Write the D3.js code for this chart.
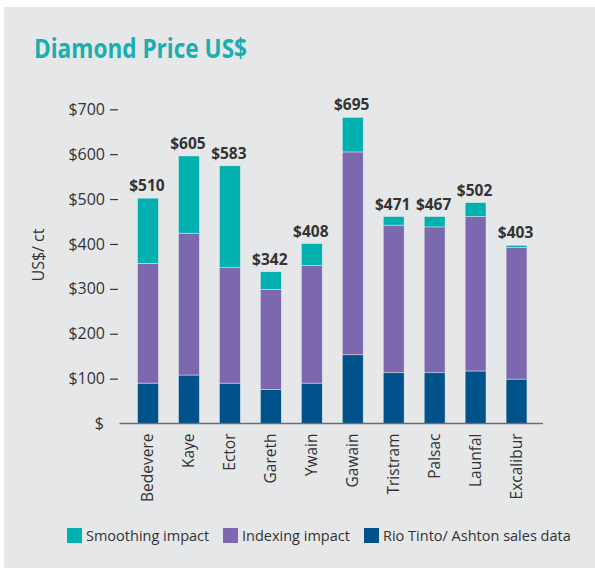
<!DOCTYPE html>
<html><head><meta charset="utf-8">
<script src="https://cdn.jsdelivr.net/npm/d3@7"></script>
<style>
html,body{margin:0;padding:0;background:#fff;}
svg{display:block;font-family:"Open Sans","Noto Sans",sans-serif;}
</style></head>
<body>
<svg id="chart" width="595" height="568"></svg>
<script>
const categories = ["Bedevere","Kaye","Ector","Gareth","Ywain","Gawain","Tristram","Palsac","Launfal","Excalibur"];
const salesData = [90,108,90,76,90,153,113,113,117,99];
const indexingImpact = [267,316,257,223,262,452,329,325,344,293];
const smoothingImpact = [145,172,227,39,49,77,19,23,31,5];
const totalLabels = ["$510","$605","$583","$342","$408","$695","$471","$467","$502","$403"];
const yTicks = [0,100,200,300,400,500,600,700];
const seriesNames = ["Smoothing impact","Indexing impact","Rio Tinto/ Ashton sales data"];
const colors = {sales:"#00528a", indexing:"#7b68ae", smoothing:"#00b1b0"};

const svg = d3.select("#chart");
svg.append("rect").attr("x",4).attr("y",7).attr("width",591).attr("height",561).attr("fill","#e6e7e9");

svg.append("text").attr("x",34).attr("y",58).attr("fill","#1aaeb0")
  .attr("font-size",26).attr("font-weight",700).attr("font-family","'Open Sans',sans-serif")
  .attr("textLength",213).attr("lengthAdjust","spacingAndGlyphs")
  .text("Diamond Price US$");

const y = d3.scaleLinear().domain([0,700]).range([423.5,109.3]);
const x = d3.scaleBand().domain(categories).range([127.5,537]).paddingInner(0.49).paddingOuter(0.245);

const rows = categories.map((c,i)=>({cat:c, sales:salesData[i], indexing:indexingImpact[i], smoothing:smoothingImpact[i], label:totalLabels[i]}));
const stack = d3.stack().keys(["sales","indexing","smoothing"])(rows);

const g = svg.append("g");
stack.forEach(s=>{
  g.selectAll(null).data(s).enter().append("rect")
    .attr("x",d=>x(d.data.cat))
    .attr("width",x.bandwidth())
    .attr("y",d=>y(d[1]))
    .attr("height",d=>y(d[0])-y(d[1]))
    .attr("fill",colors[s.key])
    .attr("stroke","#e6e7e9").attr("stroke-width",0.5);
});

// total labels
g.selectAll(null).data(rows).enter().append("text")
  .attr("x",d=>x(d.cat)+x.bandwidth()/2-1)
  .attr("y",d=>y(d.sales+d.indexing+d.smoothing)-7)
  .attr("text-anchor","middle").attr("font-size",15.5).attr("font-weight",700)
  .attr("fill","#333").text(d=>d.label);

// baseline
svg.append("line").attr("x1",119.5).attr("x2",543).attr("y1",y(0)).attr("y2",y(0))
  .attr("stroke","#6d6e71").attr("stroke-width",1.5);

// y axis
const yAxis = svg.append("g").attr("transform","translate(118,0)")
  .call(d3.axisLeft(y).tickValues(yTicks).tickSize(8).tickPadding(5)
    .tickFormat(d=> d===0 ? "$" : "$"+d));
yAxis.select(".domain").remove();
yAxis.selectAll(".tick line").attr("stroke","#333").attr("stroke-width",1.2)
  .filter(d=>d===0).remove();
yAxis.selectAll(".tick text").attr("font-size",16).attr("fill","#333")
  .attr("font-family","'Open Sans',sans-serif");
yAxis.selectAll(".tick").filter(d=>d===0).select("text").attr("x",-14);

// y title
svg.append("text").attr("transform","translate(44,255) rotate(-90)")
  .attr("text-anchor","middle").attr("font-size",16).attr("fill","#333").text("US$/ ct");

// x labels
const xAxis = svg.append("g").attr("transform",`translate(0,${y(0)})`)
  .call(d3.axisBottom(x).tickSize(0).tickPadding(0));
xAxis.select(".domain").remove();
xAxis.selectAll(".tick text")
  .attr("transform","rotate(-90)").attr("text-anchor","end")
  .attr("x",-10).attr("y",0).attr("dy","0.35em").attr("dx",0)
  .attr("font-size",15.5).attr("fill","#333").attr("font-family","'Open Sans',sans-serif");

// legend
const legendItems = [
  {name:seriesNames[0], color:colors.smoothing, x:67},
  {name:seriesNames[1], color:colors.indexing, x:223},
  {name:seriesNames[2], color:colors.sales, x:364}
];
const lg = svg.selectAll(".lg").data(legendItems).enter().append("g").attr("transform",d=>`translate(${d.x},528)`);
lg.append("rect").attr("width",15).attr("height",15).attr("fill",d=>d.color);
lg.append("text").attr("x",19).attr("y",13).attr("font-size",14.5).attr("fill","#333").text(d=>d.name);
</script>
</body></html>
